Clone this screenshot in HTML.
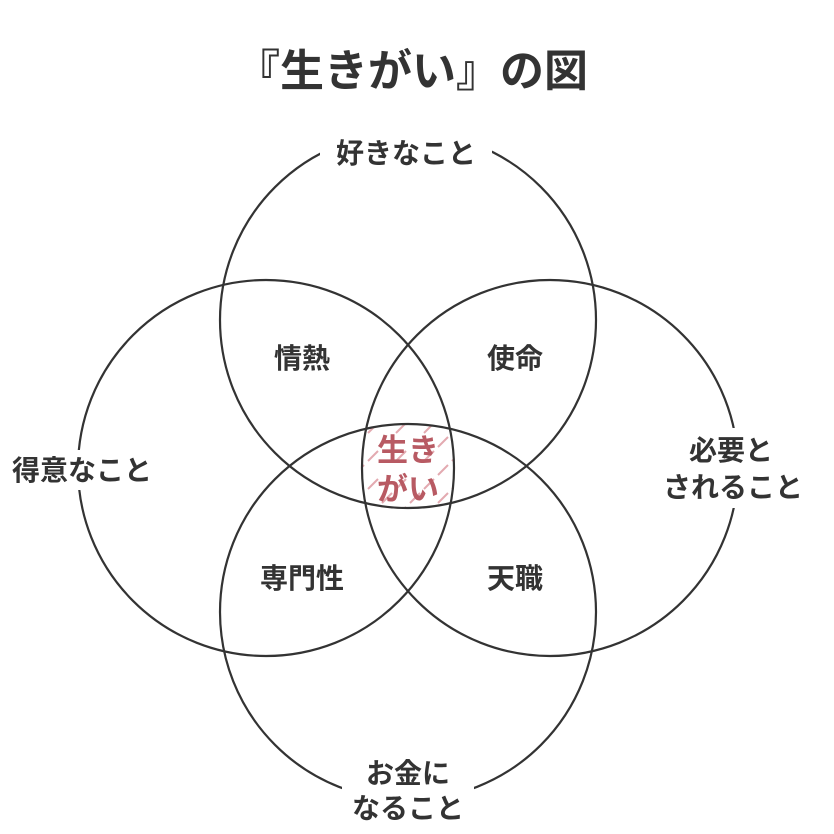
<!DOCTYPE html>
<html><head><meta charset="utf-8"><style>
html,body{margin:0;padding:0;background:#fff;}
svg{display:block;}
text{font-family:"Liberation Sans","Noto Sans CJK JP",sans-serif;fill:#333;font-weight:bold;}
</style></head><body>
<svg width="834" height="834" viewBox="0 0 834 834" xmlns="http://www.w3.org/2000/svg">
<defs>
<clipPath id="c1"><circle cx="408" cy="320" r="188"/></clipPath>
<clipPath id="c2"><circle cx="266" cy="468" r="188"/></clipPath>
<clipPath id="c3"><circle cx="550" cy="468" r="188"/></clipPath>
<clipPath id="c4"><circle cx="408" cy="612" r="188"/></clipPath>
</defs>
<text x="412" y="86" font-size="44" text-anchor="middle">『生きがい』の図</text>
<g clip-path="url(#c1)"><g clip-path="url(#c2)"><g clip-path="url(#c3)"><g clip-path="url(#c4)">
<g stroke="#e3aab0" stroke-width="2" fill="none">
<path d="M340 433 l10 -10 M368 433 l10 -10 M396 433 l10 -10 M424 433 l10 -10 M452 433 l10 -10
M340 461 l10 -10 M368 461 l10 -10 M396 461 l10 -10 M424 461 l10 -10 M452 461 l10 -10
M340 489 l10 -10 M368 489 l10 -10 M396 489 l10 -10 M424 489 l10 -10 M452 489 l10 -10
M354 447 l10 -10 M438 447 l10 -10 M354 475 l10 -10 M438 475 l10 -10
M354 503 l10 -10 M382 503 l10 -10 M410 503 l10 -10 M438 503 l10 -10
M354 419 l10 -10 M382 419 l10 -10 M410 419 l10 -10 M438 419 l10 -10
M340 517 l10 -10 M368 517 l10 -10 M396 517 l10 -10 M424 517 l10 -10 M452 517 l10 -10"/>
</g>
</g></g></g></g>
<g fill="none" stroke="#333" stroke-width="2.2">
<circle cx="408" cy="320" r="188"/>
<circle cx="266" cy="468" r="188"/>
<circle cx="550" cy="468" r="188"/>
<circle cx="408" cy="612" r="188"/>
</g>
<rect x="320" y="126" width="172" height="46" fill="#fff"/>
<text x="406" y="163" font-size="28" text-anchor="middle">好きなこと</text>
<rect x="2" y="450" width="160" height="40" fill="#fff"/>
<text x="82" y="480" font-size="28" text-anchor="middle">得意なこと</text>
<rect x="656" y="428" width="160" height="80" fill="#fff"/>
<text x="731" y="460" font-size="28" text-anchor="middle">必要と</text>
<text x="733" y="497" font-size="28" text-anchor="middle">されること</text>
<rect x="342" y="754" width="132" height="80" fill="#fff"/>
<text x="408" y="783" font-size="28" text-anchor="middle">お金に</text>
<text x="408" y="818" font-size="28" text-anchor="middle">なること</text>
<text x="302" y="368" font-size="28" text-anchor="middle">情熱</text>
<text x="515" y="368" font-size="28" text-anchor="middle">使命</text>
<text x="302" y="588" font-size="28" text-anchor="middle">専門性</text>
<text x="515" y="588" font-size="28" text-anchor="middle">天職</text>
<text x="408" y="461" font-size="31" text-anchor="middle" style="fill:#b85a63">生き</text>
<text x="408" y="500" font-size="31" text-anchor="middle" style="fill:#b85a63">がい</text>
</svg>
</body></html>
